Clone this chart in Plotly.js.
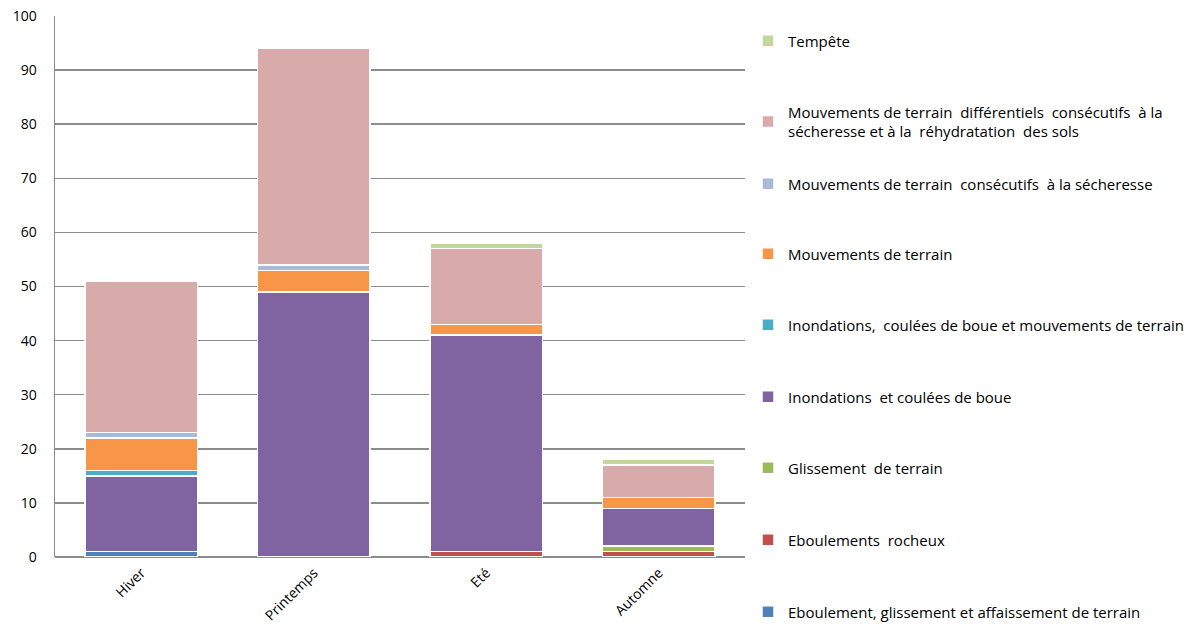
<!DOCTYPE html>
<html>
<head>
<meta charset="utf-8">
<script src="https://cdn.plot.ly/plotly-3.0.1.min.js"></script>
<style>html,body{margin:0;padding:0;background:#fff;}#chart{width:1204px;height:629px;}</style>
</head>
<body>
<div id="chart"></div>
<script>
const categories = ['Hiver', 'Printemps', 'Eté', 'Automne'];

const seriesNames = [
  'Eboulement, glissement et affaissement de terrain',
  'Eboulements&nbsp; rocheux',
  'Glissement&nbsp; de terrain',
  'Inondations&nbsp; et coulées de boue',
  'Inondations,&nbsp; coulées de boue et mouvements de terrain',
  'Mouvements de terrain',
  'Mouvements de terrain&nbsp; consécutifs&nbsp; à la sécheresse',
  'Mouvements de terrain&nbsp; différentiels&nbsp; consécutifs&nbsp; à la<br>sécheresse et à la&nbsp; réhydratation&nbsp; des sols',
  'Tempête'
];

const eboulementGlissement   = [1, 0, 0, 0];
const eboulementsRocheux     = [0, 0, 1, 1];
const glissementTerrain      = [0, 0, 0, 1];
const inondationsCoulees     = [14, 49, 40, 7];
const inondationsMouvements  = [1, 0, 0, 0];
const mouvementsTerrain      = [6, 4, 2, 2];
const mouvementsSecheresse   = [1, 1, 0, 0];
const mouvementsDifferentiels= [28, 40, 14, 6];
const tempete                = [0, 0, 1, 1];

const seriesValues = [eboulementGlissement, eboulementsRocheux, glissementTerrain,
  inondationsCoulees, inondationsMouvements, mouvementsTerrain,
  mouvementsSecheresse, mouvementsDifferentiels, tempete];

const seriesColors = ['#4F81BD', '#C0504D', '#9BBB59', '#8064A2', '#4BACC6',
  '#F79646', '#A9B9DA', '#D9AAAA', '#C3D69B'];

// legend vertical centres (pixels from top of page) for each series
const legendCentersPx = [612, 540, 468, 397, 325, 254, 184, 121.5, 41];

const H = 629, W = 1204;
const fontFam = '"Open Sans", Lato, sans-serif';

const traces = [];
const layout = {
  width: W, height: H,
  margin: {l: 55, r: 459, t: 16, b: 72},
  paper_bgcolor: '#ffffff', plot_bgcolor: '#ffffff',
  barmode: 'stack', bargap: 0.345,
  font: {family: fontFam, size: 14, color: '#000'},
  xaxis: {
    type: 'category', tickangle: -45, showgrid: false, zeroline: false,
    showline: false, ticks: '', ticklabelstandoff: 4,
    tickfont: {family: fontFam, size: 14, color: '#000'}
  },
  yaxis: {
    range: [0, 100], dtick: 10, showgrid: true, gridcolor: '#8c8c8c', gridwidth: 1.5,
    zeroline: true, zerolinecolor: '#8c8c8c', zerolinewidth: 1.5,
    showline: true, linecolor: '#8c8c8c', linewidth: 1.5,
    ticks: '', ticklabelstandoff: 14, tickfont: {family: fontFam, size: 14, color: '#000'}
  },
  showlegend: true
};

seriesNames.forEach((name, i) => {
  const key = i === 0 ? 'legend' : 'legend' + (i + 1);
  traces.push({
    type: 'bar', name: name, x: categories, y: seriesValues[i],
    marker: {color: seriesColors[i], line: {color: '#ffffff', width: 1.5}},
    legend: key, hoverinfo: 'name+y'
  });
  layout[key] = {
    xref: 'container', yref: 'container',
    x: 748 / W, xanchor: 'left',
    y: 1 - legendCentersPx[i] / H, yanchor: 'middle',
    bgcolor: 'rgba(0,0,0,0)', borderwidth: 0,
    font: {family: fontFam, size: 15, color: '#000'},
    itemwidth: 30
  };
});

Plotly.newPlot('chart', traces, layout, {displayModeBar: false, staticPlot: true});
</script>
</body>
</html>
